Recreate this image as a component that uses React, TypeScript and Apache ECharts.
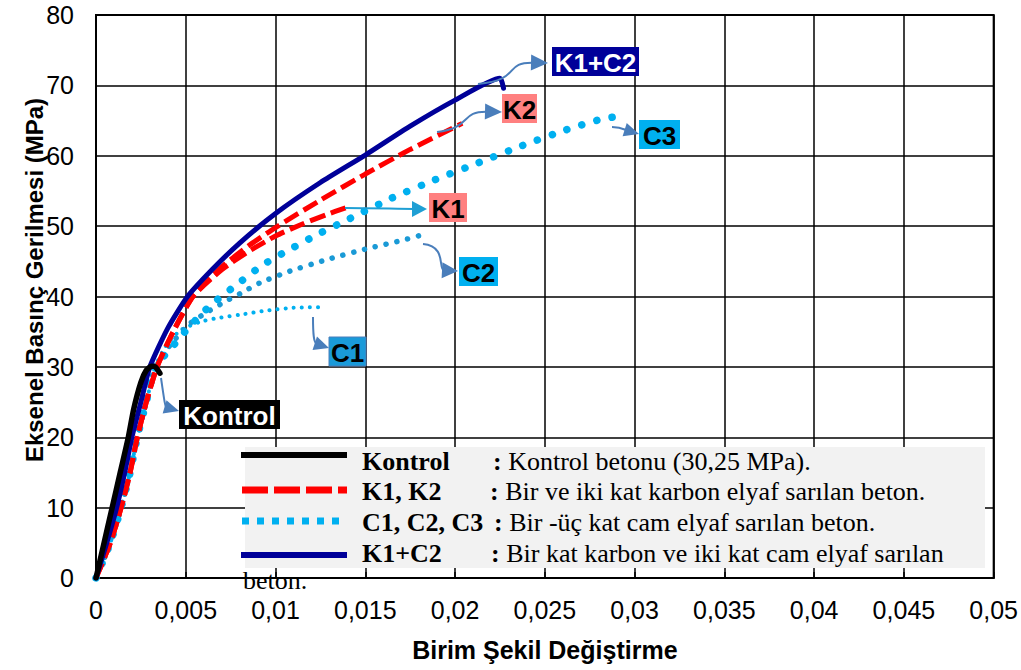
import React, { useEffect, useRef } from "react";
import * as echarts from "echarts";

// ---- data (strain, stress MPa) ----
const kontrolData: number[][] = [
  [0, 0], [0.00045, 5], [0.0009, 10], [0.00135, 15], [0.0018, 20], [0.0021, 24],
  [0.0025, 27.8], [0.0028, 29.5], [0.0031, 30.1], [0.0033, 30], [0.00356, 29.1],
];
const k1Data: number[][] = [
  [0, 0], [0.0008, 5], [0.0014, 10], [0.0019, 15], [0.0023, 20], [0.0028, 25], [0.0034, 30],
  [0.0043, 35], [0.0054, 40], [0.007, 43.8], [0.0085, 46.4], [0.01, 48.6], [0.0115, 50.3],
  [0.0128, 51.6], [0.0139, 52.6],
];
const k2Data: number[][] = [
  [0, 0], [0.0008, 5], [0.0014, 10], [0.0019, 15], [0.0023, 20], [0.0028, 25], [0.0034, 30],
  [0.0043, 35], [0.0054, 40], [0.007, 44.2], [0.0085, 47.2], [0.01, 49.8], [0.0125, 53.7],
  [0.015, 57.4], [0.0175, 60.9], [0.0204, 64.6],
];
const c1Data: number[][] = [
  [0, 0], [0.0008, 5], [0.0014, 10], [0.0019, 15], [0.0023, 20], [0.0028, 25], [0.0033, 30],
  [0.0039, 33], [0.0047, 35.2], [0.0058, 36.4], [0.0067, 36.9], [0.008, 37.4], [0.0095, 38],
  [0.011, 38.4], [0.0128, 38.5],
];
const c2Data: number[][] = [
  [0, 0], [0.0008, 5], [0.0014, 10], [0.0019, 15], [0.0023, 20], [0.0028, 25], [0.0033, 30],
  [0.0041, 33], [0.0052, 36.1], [0.0062, 37.8], [0.0072, 39.3], [0.0081, 40.5], [0.0091, 41.9],
  [0.0108, 43.6], [0.0128, 45.2], [0.0151, 46.8], [0.0171, 48], [0.0182, 48.8],
];
const c3Data: number[][] = [
  [0, 0], [0.0008, 5], [0.0014, 10], [0.0019, 15], [0.0023, 20], [0.0028, 25], [0.0033, 30],
  [0.0041, 32.4], [0.0052, 35.7], [0.0064, 38.8], [0.0079, 41.8], [0.0093, 44.5], [0.0108, 46.7],
  [0.0124, 48.9], [0.014, 50.9], [0.0164, 53.9], [0.0188, 56.5], [0.0213, 59], [0.0237, 61.4],
  [0.0262, 63.7], [0.028, 65.1], [0.0288, 65.5],
];
const k1c2Data: number[][] = [
  [0, 0], [0.0006, 5], [0.00115, 10], [0.0016, 15], [0.002, 20], [0.0025, 25], [0.003, 30],
  [0.004, 35.5], [0.0051, 40], [0.0065, 43.9], [0.008, 47.6], [0.01, 51.8], [0.0125, 56.2],
  [0.015, 60.1], [0.0175, 64.2], [0.02, 67.9], [0.0225, 71], [0.0227, 69.6],
];

const legendNames = ["Kontrol", "K1, K2", "C1, C2, C3", "K1+C2"];
const legendDescs = [
  "Kontrol betonu (30,25 MPa).",
  "Bir ve iki kat karbon elyaf sarılan beton.",
  "Bir -üç kat cam elyaf sarılan beton.",
  "Bir kat karbon ve iki kat cam elyaf sarılan",
];
const legendWrap = "beton.";

const SERIF = "'Liberation Serif', 'Times New Roman', serif";
const SANS = "'Liberation Sans', Arial, sans-serif";
const ARROW = "#4a7ebb";

function arrow(p0: number[], c1: number[], c2: number[], p1: number[], color: string, len = 15, half = 7) {
  const dx = p1[0] - c2[0];
  const dy = p1[1] - c2[1];
  const d = Math.hypot(dx, dy) || 1;
  const ux = dx / d, uy = dy / d;
  const bx = p1[0] - ux * len, by = p1[1] - uy * len;
  return [
    {
      type: "bezierCurve", z: 100, silent: true,
      shape: { x1: p0[0], y1: p0[1], cpx1: c1[0], cpy1: c1[1], cpx2: c2[0], cpy2: c2[1], x2: bx + ux * 2, y2: by + uy * 2 },
      style: { stroke: color, lineWidth: 2, fill: null },
    },
    {
      type: "polygon", z: 100, silent: true,
      shape: { points: [[p1[0], p1[1]], [bx - uy * half, by + ux * half], [bx + uy * half, by - ux * half]] },
      style: { fill: color },
    },
  ];
}

function tag(x0: number, y0: number, x1: number, y1: number, text: string, bg: string, fg: string, border?: string) {
  return [
    {
      type: "rect", z: 101, silent: true,
      shape: { x: x0, y: y0, width: x1 - x0, height: y1 - y0 },
      style: { fill: bg, stroke: border || null, lineWidth: border ? 1 : 0 },
    },
    {
      type: "text", z: 102, silent: true, x: (x0 + x1) / 2, y: (y0 + y1) / 2 + 1,
      style: { text, fill: fg, font: `bold 26px ${SANS}`, align: "center", verticalAlign: "middle" },
    },
  ];
}

export default function App() {
  const ref = useRef<HTMLDivElement>(null);
  useEffect(() => {
    document.body.style.margin = "0";
    const chart = echarts.init(ref.current!, null, { renderer: "svg" });

    const dotted = (color: string, w: number, gap: number) => ({
      color, width: w, type: [0.1, gap], cap: "round" as const,
    });

    const mk = (name: string, data: number[][], lineStyle: any, z: number) => ({
      name, type: "line", data, showSymbol: false, symbol: "none", smooth: 0.2, z,
      lineStyle, itemStyle: { color: lineStyle.color }, silent: true,
    });

    const legendX0 = 241, legendX1 = 347;
    const rowLineY = [455, 490, 521, 555];
    const rowTextY = [461, 491, 522, 553];
    const colonX = [493, 490, 494, 491];

    const graphic: any[] = [
      {
        type: "rect", z: 90, silent: true,
        shape: { x: 245, y: 447, width: 740, height: 121 },
        style: { fill: "#f2f2f2" },
      },
      { type: "line", z: 95, shape: { x1: legendX0, y1: rowLineY[0], x2: legendX1, y2: rowLineY[0] }, style: { stroke: "#000", lineWidth: 6 } },
      { type: "line", z: 95, shape: { x1: legendX0 + 1, y1: rowLineY[1], x2: legendX1, y2: rowLineY[1] }, style: { stroke: "#ff0000", lineWidth: 7, lineDash: [26, 6] } },
      { type: "line", z: 95, shape: { x1: legendX0 + 1, y1: rowLineY[2], x2: legendX1, y2: rowLineY[2] }, style: { stroke: "#00b0f0", lineWidth: 7, lineDash: [7, 8] } },
      { type: "line", z: 95, shape: { x1: legendX0, y1: rowLineY[3], x2: legendX1, y2: rowLineY[3] }, style: { stroke: "#000099", lineWidth: 6 } },
    ];
    legendNames.forEach((n, i) => {
      graphic.push({
        type: "text", z: 96, x: 362, y: rowTextY[i],
        style: { text: n, fill: "#000", font: `bold 26px ${SERIF}`, align: "left", verticalAlign: "middle" },
      });
      graphic.push({
        type: "text", z: 96, x: colonX[i], y: rowTextY[i],
        style: {
          text: `{b|:} ${legendDescs[i]}`, fill: "#000", font: `26px ${SERIF}`, align: "left", verticalAlign: "middle",
          rich: { b: { font: `bold 26px ${SERIF}`, fill: "#000" } },
        },
      });
    });
    graphic.push({
      type: "text", z: 96, x: 243, y: 580,
      style: { text: legendWrap, fill: "#000", font: `26px ${SERIF}`, align: "left", verticalAlign: "middle" },
    });

    // y axis title
    graphic.push({
      type: "text", z: 96, x: 34, y: 280, rotation: Math.PI / 2,
      style: { text: "Eksenel Basınç Gerilmesi (MPa)", fill: "#000", font: `bold 24px ${SANS}`, align: "center", verticalAlign: "middle" },
    });

    // annotations
    graphic.push(...arrow([478, 84], [522, 80], [503, 62], [548, 63], ARROW, 17, 8));
    graphic.push(...tag(552, 47, 639, 76, "K1+C2", "#000099", "#fff"));
    graphic.push(...arrow([437, 132], [472, 128], [460, 111], [502, 112], ARROW, 17, 8));
    graphic.push(...tag(502, 94, 537, 123, "K2", "#ff8080", "#000"));
    graphic.push(...arrow([612, 127], [620, 127], [626, 130], [639, 134], ARROW, 15, 7));
    graphic.push(...tag(639, 120, 680, 149, "C3", "#00b0f0", "#000"));
    graphic.push(...arrow([345, 208], [370, 208], [400, 209], [427, 209], "#1f9fd4", 15, 8));
    graphic.push(...tag(429, 193, 467, 222, "K1", "#ff8080", "#000"));
    graphic.push(...arrow([423, 244], [447, 246], [438, 270], [458, 271], ARROW, 16, 8));
    graphic.push(...tag(459, 257, 498, 286, "C2", "#00b0f0", "#000"));
    graphic.push(...arrow([313, 317], [313, 336], [314, 343], [329, 348], ARROW, 15, 7));
    graphic.push(...tag(329, 337, 366, 366, "C1", "#1a9ad9", "#000", "#4a7ebb"));
    graphic.push(...arrow([161, 378], [164, 398], [165, 407], [179, 411], ARROW, 15, 7));
    graphic.push(...tag(179, 400, 280, 429, "Kontrol", "#000", "#fff"));

    const option: any = {
      animation: false,
      backgroundColor: "#fff",
      grid: {
        left: 96, right: 27, top: 15, bottom: 92, containLabel: false,
        show: true, borderColor: "#000", borderWidth: 2, backgroundColor: "transparent",
      },
      xAxis: {
        type: "value", min: 0, max: 0.05, interval: 0.005,
        name: "Birim Şekil Değiştirme", nameLocation: "middle", nameGap: 59,
        nameTextStyle: { fontFamily: SANS, fontWeight: "bold", fontSize: 25, color: "#000" },
        axisLine: { show: true, lineStyle: { color: "#000", width: 2 } },
        axisTick: { show: true, inside: true, length: 6, lineStyle: { color: "#000", width: 1.5 } },
        axisLabel: {
          fontFamily: SANS, fontSize: 25, color: "#000", margin: 19,
          formatter: (v: number) => (v === 0 ? "0" : String(+v.toFixed(3)).replace(".", ",")),
        },
        splitLine: { show: true, lineStyle: { color: "#000", width: 1.5 } },
      },
      yAxis: {
        type: "value", min: 0, max: 80, interval: 10,
        axisLine: { show: true, lineStyle: { color: "#000", width: 2 } },
        axisTick: { show: false },
        axisLabel: { fontFamily: SANS, fontSize: 25, color: "#000", margin: 22 },
        splitLine: { show: true, lineStyle: { color: "#000", width: 1.5 } },
      },
      series: [
        mk("C1", c1Data, dotted("#00b0f0", 4, 8), 3),
        mk("C2", c2Data, dotted("#1a9ad6", 5.5, 11), 3),
        mk("C3", c3Data, dotted("#00b0f0", 7.5, 15.5), 3),
        mk("K1", k1Data, { color: "#ff0000", width: 5, type: [16, 6] }, 4),
        mk("K2", k2Data, { color: "#ff0000", width: 5, type: [16, 6] }, 4),
        mk("K1+C2", k1c2Data, { color: "#000099", width: 5, type: "solid", cap: "round" }, 5),
        mk("Kontrol", kontrolData, { color: "#000", width: 5.5, type: "solid", cap: "round" }, 6),
      ],
      graphic,
    };
    chart.setOption(option);
    return () => chart.dispose();
  }, []);
  return <div ref={ref} style={{ width: 1021, height: 670 }} />;
}
